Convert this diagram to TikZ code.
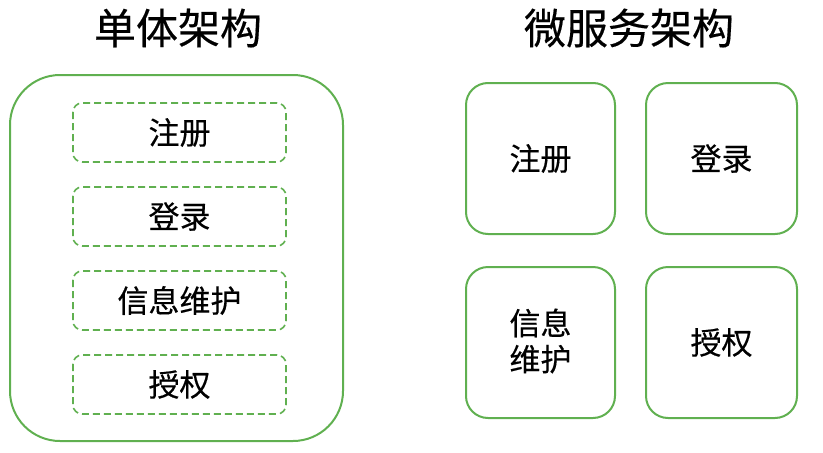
\documentclass[tikz,border=0pt]{standalone}
\usepackage{fontspec}
\setmainfont{Noto Sans CJK SC}
\newfontfamily\cjkmed{Noto Sans CJK SC}[FakeBold=0.4]
\definecolor{gline}{RGB}{96,176,80}
\begin{document}
\begin{tikzpicture}[x=1pt,y=-1pt,
  bigbox/.style={draw=gline,line width=2pt,rounded corners=50pt},
  modbox/.style={draw=gline,line width=1.6pt,dash pattern=on 7pt off 4pt,rounded corners=9pt},
  svcbox/.style={draw=gline,line width=2pt,rounded corners=22pt},
  title/.style={font=\cjkmed\fontsize{42}{48}\selectfont\addfontfeature{FakeBold=0.4},anchor=center},
  lbl/.style={font=\cjkmed\fontsize{31}{36}\selectfont\addfontfeature{FakeBold=0.4},anchor=center,align=center}]
\useasboundingbox (0,0) rectangle (823,453);
\node[title] (t1) at (178,28) {单体架构};
\node[title] (t2) at (629,28) {微服务架构};
\draw[bigbox] (10,75) rectangle (343,441);
\draw[modbox] (73,103) rectangle (286,162);
\draw[modbox] (73,187) rectangle (286,246);
\draw[modbox] (73,271) rectangle (286,330);
\draw[modbox] (73,355) rectangle (286,414);
\node[lbl] (m1) at (179.5,132.5) {注册};
\node[lbl] (m2) at (179.5,216.5) {登录};
\node[lbl] (m3) at (179.5,300.5) {信息维护};
\node[lbl] (m4) at (179.5,384.5) {授权};
\draw[svcbox] (466,83) rectangle (615,234);
\draw[svcbox] (646,83) rectangle (797,234);
\draw[svcbox] (466,267) rectangle (615,418);
\draw[svcbox] (646,267) rectangle (797,418);
\node[lbl] (s1) at (540.5,158.5) {注册};
\node[lbl] (s2) at (721.5,158.5) {登录};
\node[lbl] (s3) at (540.5,341) {信息\\维护};
\node[lbl] (s4) at (721.5,342.5) {授权};
\end{tikzpicture}
\end{document}
